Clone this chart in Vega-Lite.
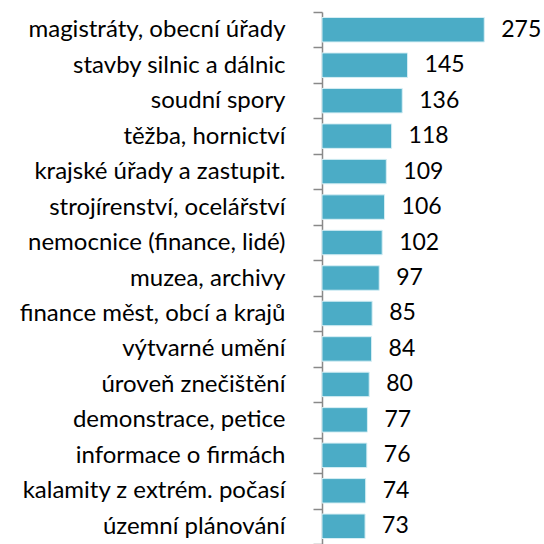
{
  "$schema": "https://vega.github.io/schema/vega-lite/v6.json",
  "autosize": "none",
  "width": 177,
  "height": 532,
  "padding": {"left": 322, "top": 12, "right": 45, "bottom": 0},
  "background": "white",
  "config": {"view": {"stroke": null}},
  "data": {"values": [
    {"cat": "magistráty, obecní úřady", "v": 275},
    {"cat": "stavby silnic a dálnic", "v": 145},
    {"cat": "soudní spory", "v": 136},
    {"cat": "těžba, hornictví", "v": 118},
    {"cat": "krajské úřady a zastupit.", "v": 109},
    {"cat": "strojírenství, ocelářství", "v": 106},
    {"cat": "nemocnice (finance, lidé)", "v": 102},
    {"cat": "muzea, archivy", "v": 97},
    {"cat": "finance měst, obcí a krajů", "v": 85},
    {"cat": "výtvarné umění", "v": 84},
    {"cat": "úroveň znečištění", "v": 80},
    {"cat": "demonstrace, petice", "v": 77},
    {"cat": "informace o firmách", "v": 76},
    {"cat": "kalamity z extrém. počasí", "v": 74},
    {"cat": "územní plánování", "v": 73}
  ]},
  "encoding": {
    "y": {"field": "cat", "type": "nominal", "sort": null,
      "scale": {"paddingInner": 0, "paddingOuter": 0},
      "axis": {"title": null, "tickBand": "extent", "domainColor": "#898989", "domainWidth": 1.5,
        "tickColor": "#898989", "tickWidth": 1.5, "tickSize": 9,
        "labelFont": "Lato", "labelFontSize": 24, "labelColor": "#000000", "labelPadding": 28, "labelLimit": 400}},
    "x": {"field": "v", "type": "quantitative", "scale": {"domain": [0, 300], "nice": false}, "axis": null}
  },
  "layer": [
    {"mark": {"type": "bar", "height": {"band": 0.69}, "color": "#4bacc6", "stroke": "#d6eef4", "strokeWidth": 1}},
    {"mark": {"type": "text", "align": "left", "baseline": "middle", "dx": 17, "font": "Lato", "fontSize": 23, "color": "#000000"},
      "encoding": {"text": {"field": "v", "type": "quantitative"}}}
  ]
}
